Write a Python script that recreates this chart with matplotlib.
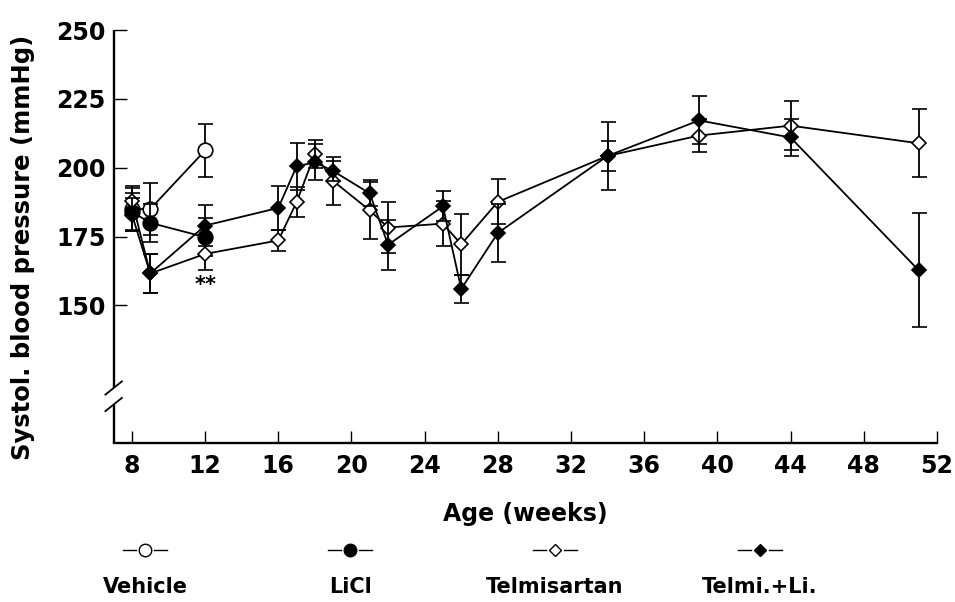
import matplotlib
matplotlib.use("Agg")
import matplotlib.pyplot as plt
from matplotlib.lines import Line2D

# Systolic blood pressure, mean +/- SEM
weeks_short = [8, 9, 12]
vehicle = [185, 185, 206.3]
vehicle_err = [7.5, 9.5, 9.7]
licl = [184, 180, 174.8]
licl_err = [7, 7, 7]

weeks_long = [8, 9, 12, 16, 17, 18, 19, 21, 22, 25, 26, 28, 34, 39, 44, 51]
telmi = [188, 161.6, 168.7, 173.6, 187.5, 205, 195.2, 184.5, 178.3, 179.7,
         172.2, 187.6, 204.3, 211.7, 215.3, 208.9]
telmi_err = [5.5, 7, 5.9, 3.8, 5.5, 5, 8.7, 10.3, 9.2, 8.1,
             11, 8.2, 12.5, 6, 8.8, 12.4]
telmi_li = [183, 161.6, 179, 185.4, 200.5, 202, 198.8, 190.7, 172, 186,
            156, 176.3, 204.3, 217.2, 211, 162.8]
telmi_li_err = [6, 7, 7.3, 7.9, 8.5, 6.5, 3.7, 4.7, 9, 5.5,
                5, 10.4, 5.3, 8.7, 6.6, 20.8]

labels = ["Vehicle", "LiCl", "Telmisartan", "Telmi.+Li."]
xticks = list(range(8, 53, 4))
yticks = [150, 175, 200, 225, 250]

FONT = "DejaVu Sans"
LW = 1.3

fig = plt.figure(figsize=(9.55, 6.02), dpi=100)
ax = fig.add_axes([0.119, 0.264, 0.862, 0.686])

styles = [
    dict(marker="o", ms=10.5, mfc="white"),
    dict(marker="o", ms=10.5, mfc="black"),
    dict(marker="D", ms=7.3, mfc="white"),
    dict(marker="D", ms=7.3, mfc="black"),
]
series = [
    (weeks_short, vehicle, vehicle_err),
    (weeks_short, licl, licl_err),
    (weeks_long, telmi, telmi_err),
    (weeks_long, telmi_li, telmi_li_err),
]

for i, ((x, y, e), st) in enumerate(zip(series, styles)):
    ax.errorbar(x, y, yerr=e, color="black", lw=LW, elinewidth=LW,
                capsize=5.4, capthick=LW, marker=st["marker"], ms=st["ms"],
                mfc=st["mfc"], mec="black", mew=1.2, zorder=3 + i,
                clip_on=False)

ax.text(12, 157.5, "**", ha="center", va="center", fontsize=15,
        fontweight="bold", family=FONT)

ax.set_xlim(7, 52)
ax.set_ylim(100, 250)
ax.set_xticks(xticks)
ax.set_yticks(yticks)

for side in ["top", "right", "left"]:
    ax.spines[side].set_visible(False)
ax.spines["bottom"].set_linewidth(1.7)

# broken y axis drawn by hand
lo, hi = 114, 120
ax.plot([7, 7], [100, lo], color="black", lw=1.7, clip_on=False,
        solid_capstyle="butt")
ax.plot([7, 7], [hi, 250], color="black", lw=1.7, clip_on=False,
        solid_capstyle="butt")
for yb in (lo, hi):
    ax.plot([7 - 0.45, 7 + 0.45], [yb - 2.4, yb + 2.4], color="black",
            lw=1.3, clip_on=False)

ax.tick_params(axis="both", direction="in", width=1.0, colors="black")
ax.tick_params(axis="x", length=9, pad=8)
ax.tick_params(axis="y", length=9, pad=6)
for lab in ax.get_xticklabels() + ax.get_yticklabels():
    lab.set_fontsize(17)
    lab.set_fontweight("bold")
    lab.set_family(FONT)

ax.set_xlabel("Age (weeks)", fontsize=17, fontweight="bold", family=FONT)
ax.xaxis.set_label_coords(0.5, -0.142)
ax.set_ylabel("Systol. blood pressure (mmHg)", fontsize=17.5,
              fontweight="bold", family=FONT)
ax.yaxis.set_label_coords(-0.096, 0.473)

# legend row under the axes: "—marker—" with the name below
leg_x = [145, 350, 555, 760]
leg_y = 1 - 550 / 602
txt_y = 1 - 587 / 602
for cx, st, name in zip(leg_x, styles, labels):
    fx = cx / 955
    for sgn in (-1, 1):
        fig.add_artist(Line2D([fx + sgn * 9 / 955, fx + sgn * 22 / 955],
                              [leg_y, leg_y], color="black", lw=1.0,
                              transform=fig.transFigure))
    ms = 9 if st["marker"] == "o" else 6
    fig.add_artist(Line2D([fx], [leg_y], marker=st["marker"], ms=ms,
                          mfc=st["mfc"], mec="black", mew=1.0, lw=0,
                          transform=fig.transFigure))
    fig.text(fx, txt_y, name, ha="center", va="center", fontsize=15,
             fontweight="bold", family=FONT)

fig.savefig("out.png", dpi=100)
